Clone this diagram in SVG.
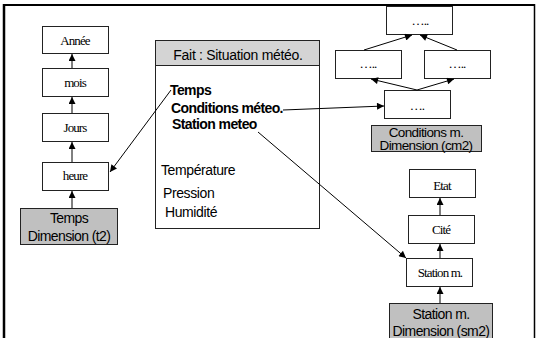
<svg xmlns="http://www.w3.org/2000/svg" width="536" height="338" viewBox="0 0 536 338">
<style>
.box{fill:#fff;stroke:#222;stroke-width:1}
.dim{fill:#c0c0c0;stroke:#222;stroke-width:1}
.hdr{fill:#d4d4d4;stroke:#222;stroke-width:1}
.ser{font-family:"Liberation Serif",serif;font-size:13px;letter-spacing:-0.9px;text-anchor:middle;fill:#000}
.san{font-family:"Liberation Sans",Arial,sans-serif;font-size:14px;letter-spacing:-0.6px;fill:#000}
.mid{text-anchor:middle}
.b{font-weight:bold}
.con line{stroke:#000;stroke-width:1;marker-end:url(#ah)}
.frame{stroke:#000;fill:none}
</style>
<defs>
<marker id="ah" viewBox="0 0 10 10" refX="10" refY="5" markerUnits="userSpaceOnUse" markerWidth="9" markerHeight="7" orient="auto">
<path d="M0,0 L10,5 L0,10 z" fill="#000"/>
</marker>
</defs>
<rect width="536" height="338" fill="#fff"/>
<g id="frame">
<line class="frame" x1="3" y1="5" x2="535" y2="5" stroke-width="2"/>
<line class="frame" x1="4" y1="4" x2="4" y2="338" stroke-width="2.5"/>
<line class="frame" x1="534.5" y1="4" x2="534.5" y2="338" stroke-width="1.5"/>
</g>
<g id="annee"><rect class="box" x="42.5" y="26.5" width="66" height="27"/><text class="ser" x="75" y="44.5">Année</text></g>
<g id="mois"><rect class="box" x="42.5" y="68.5" width="66" height="28"/><text class="ser" x="75" y="87">mois</text></g>
<g id="jours"><rect class="box" x="42.5" y="113.5" width="66" height="28"/><text class="ser" x="75" y="131.5">Jours</text></g>
<g id="heure"><rect class="box" x="42.5" y="162.5" width="66" height="28"/><text class="ser" x="75" y="179.5">heure</text></g>
<g id="temps-dim"><rect class="dim" x="20.5" y="208.5" width="97" height="36"/><text class="san mid" x="69" y="222.5">Temps</text><text class="san mid" x="69" y="240.5">Dimension (t2)</text></g>
<g id="fait">
<rect class="box" x="155.5" y="40.5" width="164" height="188"/>
<rect class="hdr" x="155.5" y="40.5" width="164" height="25"/>
<text class="san mid" x="238" y="60" style="letter-spacing:-0.3px">Fait : Situation météo.</text>
<text class="san b" x="170" y="95">Temps</text>
<text class="san b" x="171" y="113">Conditions méteo.</text>
<text class="san b" x="172" y="129">Station meteo</text>
<text class="san" x="161" y="175" style="letter-spacing:-0.4px">Température</text>
<text class="san" x="163" y="198" style="letter-spacing:-0.4px">Pression</text>
<text class="san" x="165" y="217" style="letter-spacing:-0.4px">Humidité</text>
</g>
<g id="c-top"><rect class="box" x="386.5" y="6.5" width="66" height="28"/><text class="ser" x="420" y="25">…..</text></g>
<g id="c-left"><rect class="box" x="335.5" y="50.5" width="66" height="28"/><text class="ser" x="368" y="68">…..</text></g>
<g id="c-right"><rect class="box" x="424.5" y="50.5" width="66" height="28"/><text class="ser" x="457" y="68">…..</text></g>
<g id="c-bottom"><rect class="box" x="384.5" y="90.5" width="66" height="28"/><text class="ser" x="417" y="110">….</text></g>
<g id="cond-dim"><rect class="dim" x="371.5" y="125.5" width="110" height="26"/><text class="san mid" x="426" y="136.5" style="font-size:13.5px">Conditions m.</text><text class="san mid" x="426" y="150" style="font-size:13.5px">Dimension (cm2)</text></g>
<g id="etat"><rect class="box" x="409.5" y="169.5" width="66" height="28"/><text class="ser" x="442" y="190">Etat</text></g>
<g id="cite"><rect class="box" x="408.5" y="215.5" width="66" height="28"/><text class="ser" x="441" y="234">Cité</text></g>
<g id="station"><rect class="box" x="406.5" y="258.5" width="66" height="28"/><text class="ser" x="440" y="277">Station m.</text></g>
<g id="station-dim"><rect class="dim" x="389.5" y="303.5" width="103" height="40"/><text class="san mid" x="441" y="319">Station m.</text><text class="san mid" x="441" y="335.5">Dimension (sm2)</text></g>
<g id="connectors" class="con">
<line x1="72" y1="68" x2="72" y2="54"/>
<line x1="72" y1="113" x2="72" y2="97"/>
<line x1="72" y1="162" x2="72" y2="142"/>
<line x1="72" y1="208" x2="72" y2="191"/>
<line x1="171" y1="90" x2="110" y2="172"/>
<line x1="364" y1="50" x2="412" y2="35"/>
<line x1="457" y1="50" x2="420" y2="35"/>
<line x1="417" y1="90" x2="371" y2="79"/>
<line x1="417" y1="90" x2="454" y2="79"/>
<line x1="283" y1="110" x2="384" y2="106"/>
<line x1="440" y1="215" x2="440" y2="198"/>
<line x1="440" y1="258" x2="440" y2="244"/>
<line x1="440" y1="303" x2="440" y2="287"/>
<line x1="258" y1="132" x2="406" y2="258"/>
</g>
</svg>
